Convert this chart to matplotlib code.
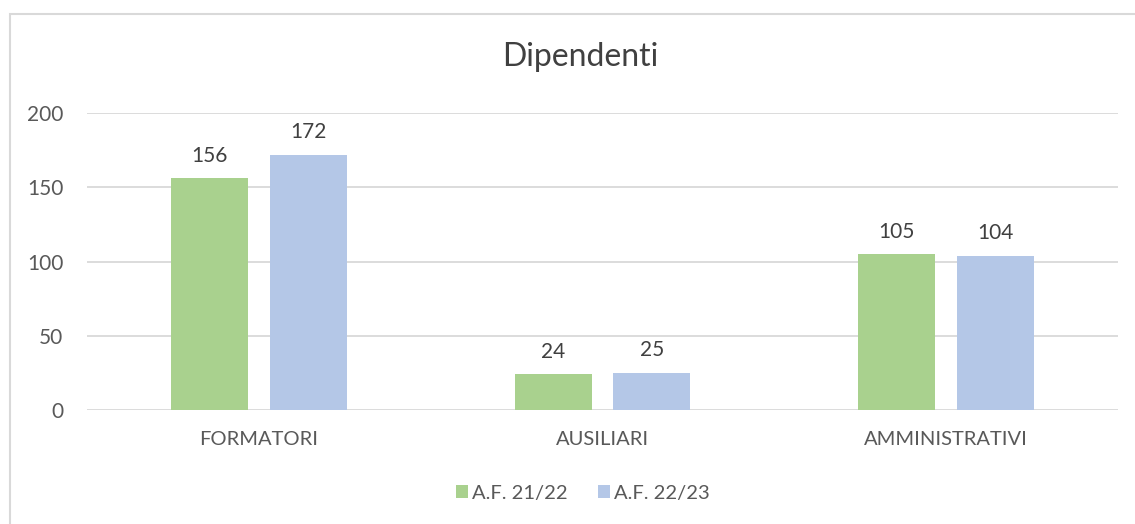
import matplotlib
matplotlib.use("Agg")
import matplotlib.pyplot as plt
import numpy as np
from matplotlib.patches import Rectangle

categories = ["FORMATORI", "AUSILIARI", "AMMINISTRATIVI"]
series_names = ["A.F. 21/22", "A.F. 22/23"]
values_2122 = [156, 24, 105]
values_2223 = [172, 25, 104]
yticks = [0, 50, 100, 150, 200]

colors = ["#A9D18E", "#B4C7E7"]
text_color = "#595959"
plt.rcParams['font.family'] = ['Lato', 'DejaVu Sans']

fig = plt.figure(figsize=(11.35, 5.24), dpi=100)
fig.patch.set_facecolor("white")
fig.patches.append(Rectangle((10/1135, -0.1), 1.2, 1 - 14/524 + 0.1, transform=fig.transFigure,
                             fill=False, edgecolor="#D9D9D9", linewidth=1.5))

ax = fig.add_axes([87/1135, 1 - 410/524, (1118 - 87)/1135, (410 - 113)/524])
x = np.arange(len(categories))
w = 0.224
off = 0.144
bars1 = ax.bar(x - off, values_2122, w, color=colors[0], label=series_names[0], zorder=3)
bars2 = ax.bar(x + off, values_2223, w, color=colors[1], label=series_names[1], zorder=3)
for bars in (bars1, bars2):
    ax.bar_label(bars, padding=9, fontsize=15, color="#404040")

ax.set_xlim(-0.5, 2.5)
ax.set_ylim(0, 200)
ax.set_yticks(yticks)
ax.set_xticks(x)
ax.set_xticklabels(categories)
ax.tick_params(axis='both', length=0, colors=text_color)
ax.tick_params(axis='y', pad=17, labelsize=15)
ax.tick_params(axis='x', pad=15, labelsize=14.5)
ax.grid(axis='y', color="#D9D9D9", linewidth=1.3, zorder=0)
for s in ax.spines.values():
    s.set_visible(False)

fig.text(580/1135, 1 - 57/524, "Dipendenti", ha="center", va="center", fontsize=23, color="#404040")

leg = fig.legend(loc="center", bbox_to_anchor=(583/1135, 1 - 493/524), ncol=2, frameon=False,
                 fontsize=14.5, handlelength=0.6, handleheight=0.6, handletextpad=0.2, columnspacing=1.5)
for t in leg.get_texts():
    t.set_color(text_color)

fig.savefig("out.png", dpi=100)
